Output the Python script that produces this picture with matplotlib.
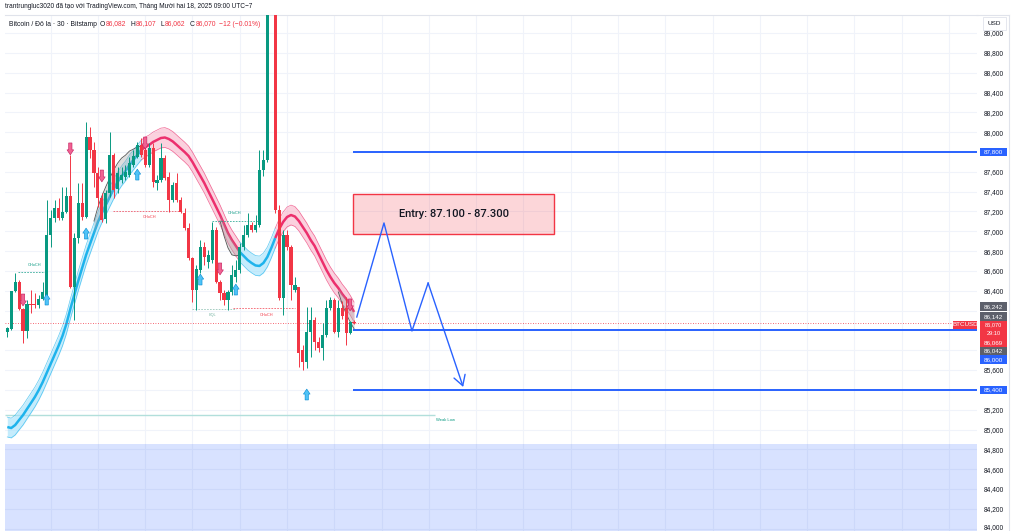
import matplotlib.pyplot as plt
from matplotlib.patches import Rectangle
import numpy as np

plt.rcParams['font.family'] = ['Liberation Sans', 'DejaVu Sans']

W, H = 1015, 531

# BTC/USD 30m candles (Bitstamp)
opens = [85985, 86015, 86395, 86490, 86215, 85995, 86265, 86265, 86255, 86315,
         86345, 86965, 87135, 87235, 87135, 87195, 87355, 86440, 86935, 87285,
         87145, 87950, 87820, 87590, 87335, 87125, 87385, 87770, 87425, 87520,
         87550, 87570, 87670, 87750, 87870, 87820, 87670, 87840, 87490, 87520,
         87740, 87550, 87315, 87490, 87315, 87185, 87035, 86730, 86410, 86610,
         86840, 86690, 86710, 87015, 86490, 86380, 86310, 86390, 86540, 86610,
         86840, 86965, 87065, 87015, 87065, 87620, 87720, 89500, 89550, 87215,
         86330, 86965, 86840, 86410, 86440, 85800, 85680, 85985, 86105, 85885,
         85825, 85955, 86225, 86310, 85985, 86225, 86225, 85975, 86082]
highs = [86035, 86400, 86580, 86510, 86225, 86305, 86410, 86380, 86355, 86490,
         87315, 87215, 87315, 87335, 87445, 87445, 87770, 86985, 87490, 87490,
         88105, 88050, 87900, 87650, 87385, 87415, 88000, 87790, 87650, 87650,
         87670, 87750, 87820, 87900, 87940, 87920, 87890, 87890, 87570, 87890,
         87770, 87600, 87500, 87590, 87345, 87235, 87085, 86740, 86660, 86915,
         86890, 86810, 87095, 87045, 86510, 86410, 86410, 86660, 86710, 86880,
         87065, 87185, 87095, 87165, 87820, 87820, 89600, 89800, 89700, 87265,
         87015, 87015, 86860, 86540, 86440, 85855, 86235, 86235, 86135, 85935,
         86075, 86310, 86340, 86330, 86310, 86300, 86340, 86095, 86107]
lows = [85935, 86005, 86385, 86205, 85875, 85925, 86175, 86225, 86225, 86305,
        86335, 86840, 87095, 87115, 87115, 87185, 86430, 86105, 86880, 87115,
        87135, 87740, 87445, 87245, 87095, 87085, 87345, 87335, 87385, 87485,
        87520, 87550, 87650, 87740, 87750, 87650, 87650, 87445, 87415, 87495,
        87515, 87195, 87295, 87295, 87185, 87015, 86710, 86285, 86205, 86580,
        86660, 86630, 86680, 86480, 86310, 86255, 86205, 86360, 86490, 86580,
        86810, 86945, 86995, 86995, 87045, 87560, 87700, 89350, 87185, 86310,
        86155, 86810, 86310, 86390, 85630, 85600, 85620, 85730, 85800, 85780,
        85700, 85935, 86205, 85975, 85935, 86115, 85855, 85965, 86062]
closes = [86025, 86395, 86490, 86215, 85995, 86265, 86255, 86255, 86315, 86385,
          86965, 87135, 87235, 87135, 87195, 87355, 86440, 86935, 87285, 87145,
          87950, 87820, 87590, 87335, 87115, 87385, 87770, 87415, 87590, 87570,
          87600, 87690, 87760, 87870, 87770, 87670, 87840, 87500, 87520, 87740,
          87540, 87315, 87465, 87315, 87195, 87035, 86730, 86410, 86620, 86840,
          86740, 86760, 87015, 86490, 86380, 86310, 86390, 86560, 86610, 86840,
          86965, 87065, 87015, 87065, 87620, 87720, 89450, 89600, 87215, 86330,
          86965, 86840, 86460, 86460, 85770, 85680, 85985, 86105, 85885, 85825,
          85955, 86225, 86310, 85985, 86225, 86145, 85975, 86082, 86070]

# trend ribbon centre line, one value per candle
ma_mid = [85025, 85015, 85045, 85096, 85146, 85207, 85267, 85328, 85399, 85479,
          85570, 85661, 85752, 85843, 85943, 86065, 86216, 86357, 86498, 86630,
          86761, 86872, 86983, 87094, 87185, 87265, 87346, 87427, 87497, 87558,
          87608, 87669, 87719, 87770, 87820, 87850, 87871, 87901, 87921, 87941,
          87946, 87931, 87906, 87871, 87835, 87800, 87760, 87699, 87628, 87558,
          87487, 87406, 87326, 87245, 87164, 87074, 86983, 86912, 86852, 86791,
          86751, 86710, 86680, 86655, 86650, 86680, 86741, 86831, 86932, 87023,
          87094, 87144, 87164, 87149, 87104, 87043, 86983, 86912, 86852, 86771,
          86690, 86609, 86539, 86478, 86428, 86367, 86317, 86256, 86186]
ribbon_half = 100
# (first candle, last candle, rising)
ribbon_parts = [(0, 34, True), (34, 59, False), (59, 68, True), (68, 88, False)]
# grey zones where the fast line splits from the ribbon: (first candle, values)
fast_zones = [
    (22, [87103, 87244, 87355, 87450, 87536, 87617, 87687, 87738, 87768, 87809, 87829, 87850, 87860]),
    (54, [87104, 86954, 86833, 86762, 86752, 86761]),
    (84, [86388, 86267, 86167, 86086, 86016]),
]

# structure labels: (start, end, price, text, text x, text price, colour)
structure = [
    (2.7, 9.6, 86589, 'CHoCH', 7.0, 86660, '#089981'),
    (26.8, 44.3, 87205, 'CHoCH', 36.0, 87144, '#f23645'),
    (52.0, 63.6, 87104, 'CHoCH', 57.8, 87185, '#089981'),
    (46.9, 58.0, 86216, 'EQL', 52.0, 86155, '#7fb8a8'),
    (57.3, 73.0, 86226, 'CHoCH', 65.9, 86155, '#f23645'),
]
sell_idx = [4, 16, 24, 35, 54, 87]
sell_top = [86367, 87891, 87618, 87951, 86680, 86317]
buy_idx = [10, 20, 33, 49, 58, 76]
buy_bottom = [86256, 86922, 87517, 86458, 86357, 85298]

weak_low = 85146
weak_low_end = 108.6
demand_top = 84854
last_price = 86070

levels = [87800, 86000, 85400]
level_start = 87.7
path_idx = [88.7, 95.6, 102.7, 106.8, 115.7]
path_price = [86135, 87084, 85994, 86478, 85429]
entry_x = (87.7, 138.8)
entry_y = (86970, 87380)
entry_text = 'Entry: 87.100 - 87.300'

GREEN, RED, BLUE = '#089981', '#f23645', '#2962ff'
INK = '#131722'

fig = plt.figure(figsize=(W / 100, H / 100), dpi=100)
ax = fig.add_axes([5 / W, 0, 972 / W, 516 / H])
ax.set_xlim(-0.58, 246.1)
ax.set_ylim(83976, 89182)

# grid
tick_vals = list(range(84000, 89001, 200))
ax.set_xticks(np.arange(11, 246, 12))
ax.set_yticks(tick_vals)
ax.grid(True, color='#f0f3fa', lw=0.8)
ax.set_axisbelow(True)
ax.yaxis.tick_right()
ax.set_yticklabels([f'{v:,}' for v in tick_vals], fontsize=4.8, color=INK)
ax.get_yticklabels()[0].set_verticalalignment('baseline')  # bottom label sits on the edge
ax.tick_params(axis='y', length=0, pad=5)
ax.tick_params(axis='x', length=0, labelbottom=False)
for s in ['left', 'right', 'bottom']:
    ax.spines[s].set_visible(False)
ax.spines['top'].set_color('#e0e3eb')
ax.spines['top'].set_linewidth(0.8)

xs = np.arange(len(opens))
o, h, l, c = map(np.array, (opens, highs, lows, closes))
ma = np.array(ma_mid)

# demand zone at the bottom
ax.axhspan(83976, demand_top, color=BLUE, alpha=0.18, lw=0, zorder=0.6)

# weak low
ax.hlines(weak_low, -0.58, weak_low_end, color='#b2dfdb', lw=1, zorder=1)
ax.text(weak_low_end + 0.3, weak_low - 50, 'Weak Low', fontsize=3, color=GREEN, va='center')

# ribbon
for a, b, up in ribbon_parts:
    seg = slice(a, b + 1)
    line_c = '#1eb3ec' if up else '#ec2f6d'
    fill_c = '#9fe0fb' if up else '#f9b3c9'
    ax.fill_between(xs[seg], ma[seg] - ribbon_half, ma[seg] + ribbon_half, color=fill_c, alpha=0.6, lw=0, zorder=2)
    ax.plot(xs[seg], ma[seg] + ribbon_half, color=line_c, lw=0.5, alpha=0.7, zorder=2.1)
    ax.plot(xs[seg], ma[seg] - ribbon_half, color=line_c, lw=0.5, alpha=0.7, zorder=2.1)
    ax.plot(xs[seg], ma[seg], color=line_c, lw=1.8, zorder=2.2, solid_capstyle='butt')
for start, vals in fast_zones:
    seg = slice(start, start + len(vals))
    ax.fill_between(xs[seg], ma[seg], vals, color='#9e9e9e', alpha=0.35, lw=0, zorder=2.3)
    ax.plot(xs[seg], vals, color='#555555', lw=0.6, zorder=2.3)

# candles
cols = np.where(c >= o, GREEN, RED)
ax.vlines(xs, l, h, colors=cols, lw=0.7, zorder=4)
ax.bar(xs, np.maximum(np.abs(c - o), 12), bottom=np.minimum(o, c), width=0.8, color=cols, lw=0, zorder=4.1)

# structure lines and labels
for x0, x1, p, txt, tx, tp, col in structure:
    ax.hlines(p, x0, x1, color=col, lw=0.6, linestyles=(0, (2, 1.5)), alpha=0.8, zorder=3)
    ax.text(tx, tp, txt, fontsize=2.8, color=col, ha='center', va='center', zorder=3)

# signal arrows
arrow_style = 'simple,head_length=0.6,head_width=0.8,tail_width=0.4'
for i, p in zip(sell_idx, sell_top):
    ax.annotate('', xy=(i, p - 120), xytext=(i, p), zorder=5,
                arrowprops=dict(arrowstyle=arrow_style, fc='#f06292', ec='#c2185b', lw=0.4,
                                mutation_scale=6, shrinkA=0, shrinkB=0))
for i, p in zip(buy_idx, buy_bottom):
    ax.annotate('', xy=(i, p + 110), xytext=(i, p), zorder=5,
                arrowprops=dict(arrowstyle=arrow_style, fc='#4fc3f7', ec='#0288d1', lw=0.4,
                                mutation_scale=6, shrinkA=0, shrinkB=0))

# last price line
ax.axhline(last_price, color=RED, lw=0.6, ls=(0, (1, 2)), zorder=3)

# target levels
ax.hlines(levels, level_start, 246.1, color=BLUE, lw=1.4, zorder=5)

# entry zone
ax.add_patch(Rectangle((entry_x[0], entry_y[0]), entry_x[1] - entry_x[0], entry_y[1] - entry_y[0],
                       facecolor=RED, alpha=0.2, lw=0, zorder=5))
ax.add_patch(Rectangle((entry_x[0], entry_y[0]), entry_x[1] - entry_x[0], entry_y[1] - entry_y[0],
                       facecolor='none', edgecolor=RED, lw=1, zorder=5))
ax.text(sum(entry_x) / 2, sum(entry_y) / 2, entry_text, fontsize=8, color=INK,
        family=['Roboto', 'DejaVu Sans'], fontweight='medium', ha='center', va='center', zorder=6)

# projected path
ax.plot(path_idx[:-1], path_price[:-1], color=BLUE, lw=1, zorder=6)
ax.annotate('', xy=(path_idx[-1], path_price[-1]), xytext=(path_idx[-2], path_price[-2]), zorder=6,
            arrowprops=dict(arrowstyle='->,head_length=0.6,head_width=0.35', color=BLUE, lw=1,
                            mutation_scale=12, shrinkA=0, shrinkB=0))


# ---- price scale badges (pixel layout) ----
def ypix(price):
    return H - ax.transData.transform((0, price))[1]


covered = []  # pixel spans hidden under badges


def badge(x0, x1, top, lines, fc, lh=8.5, fs=4.5):
    hgt = lh * len(lines)
    fig.add_artist(Rectangle((x0 / W, 1 - (top + hgt) / H), (x1 - x0) / W, hgt / H,
                             transform=fig.transFigure, facecolor=fc, edgecolor='none', zorder=10))
    for k, t in enumerate(lines):
        fig.text((x0 + x1) / 2 / W, 1 - (top + lh * (k + 0.5)) / H, t, color='white', fontsize=fs,
                 ha='center', va='center', zorder=11)
    if x0 > 977:
        covered.append((top - 2, top + hgt + 2))
    return top + hgt


GRAY = '#5d606b'
for p in [87800, 85400]:
    badge(980, 1007, ypix(p) - 4.25, [f'{p:,}'], BLUE)

stack = [(86242, ['86,242'], GRAY), (86142, ['86,142'], GRAY), (86070, ['86,070', '29:10'], RED),
         (86069, ['86,069'], RED), (86042, ['86,042'], GRAY), (86000, ['86,000'], BLUE)]
bottom = 0
for p, lines, fc in stack:
    top = max(ypix(p) - 4.25, bottom)
    if p == last_price:
        badge(953, 977, top, ['BTCUSD'], RED)
        bottom = badge(980, 1007, top, lines, fc, lh=8.8, fs=4.1)
    else:
        bottom = badge(980, 1007, top, lines, fc)

# scale labels that sit under a badge are hidden, as on the platform
for v, lab in zip(tick_vals, ax.get_yticklabels()):
    yp = ypix(v)
    if any(a <= yp <= b for a, b in covered):
        lab.set_visible(False)

# USD box and scale border
fig.add_artist(Rectangle((983 / W, 1 - 30 / H), 23 / W, 13 / H, transform=fig.transFigure,
                         facecolor='white', edgecolor='#e0e3eb', lw=0.6, zorder=10))
fig.text(994.5 / W, 1 - 23.5 / H, 'USD', fontsize=4.6, color=INK, ha='center', va='center', zorder=11)
fig.add_artist(plt.Line2D([1009 / W, 1009 / W], [0, 1 - 15 / H], transform=fig.transFigure,
                          color='#e0e3eb', lw=0.8))
fig.add_artist(plt.Line2D([977 / W, 1009 / W], [1 - 15 / H, 1 - 15 / H], transform=fig.transFigure,
                          color='#e0e3eb', lw=0.8))

# ---- header ----
fig.text(5 / W, 1 - 7 / H, 'trantrungluc3020 đã tạo với TradingView.com, Tháng Mười hai 18, 2025 09:00 UTC−7',
         fontsize=4.7, color=INK, va='center')
renderer = fig.canvas.get_renderer()
parts = [('Bitcoin / Đô la · 30 · Bitstamp', INK, 3), ('O', INK, 0.8), ('86,082', RED, 4),
         ('H', INK, 0.8), ('86,107', RED, 4), ('L', INK, 0.8), ('86,062', RED, 4),
         ('C', INK, 0.8), ('86,070', RED, 3), ('−12 (−0.01%)', RED, 0)]
x = 9
for s, col, gap in parts:
    t = fig.text(x / W, 1 - 24 / H, s, fontsize=4.9, color=col, va='center', ha='left')
    x += t.get_window_extent(renderer=renderer).width + gap

fig.savefig('out.png', dpi=100)
